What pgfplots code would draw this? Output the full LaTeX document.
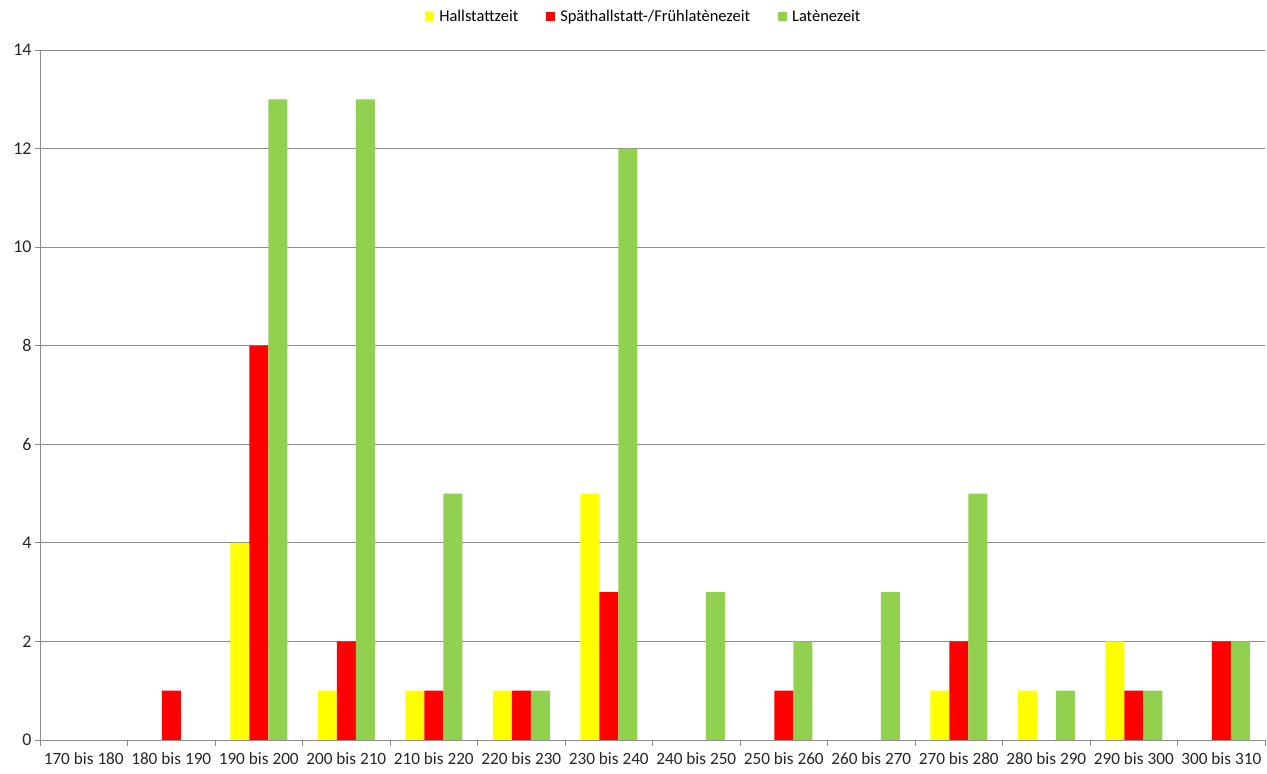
\documentclass[border=0pt]{standalone}
\usepackage{fontspec}
\setmainfont{Carlito}
\usepackage{pgfplots}
\pgfplotsset{compat=1.18}

\definecolor{hallstatt}{RGB}{255,255,0}
\definecolor{spaet}{RGB}{255,0,0}
\definecolor{latene}{RGB}{146,208,80}
\definecolor{gridgray}{RGB}{140,140,140}

\begin{document}
\begin{tikzpicture}
\path[use as bounding box] (-40bp,-34bp) rectangle (1227bp,740bp);
\begin{axis}[
  at={(0,0)}, anchor=south west,
  scale only axis,
  width=1225bp, height=690bp,
  ybar=0pt,
  bar width=19bp,
  xmin=-0.5, xmax=13.5,
  ymin=0, ymax=14,
  xtick={0,...,13},
  xticklabels={170 bis 180,180 bis 190,190 bis 200,200 bis 210,210 bis 220,220 bis 230,230 bis 240,240 bis 250,250 bis 260,260 bis 270,270 bis 280,280 bis 290,290 bis 300,300 bis 310},
  minor xtick={-0.5,0.5,...,13.5},
  major x tick style={draw=none},
  minor tick length=6bp,
  ytick={0,2,...,14},
  major tick length=5bp,
  tick align=outside,
  tick style={gridgray, line width=0.8pt},
  axis x line*=bottom,
  axis y line*=left,
  axis line style={gridgray, line width=0.8pt, -},
  ymajorgrids,
  major grid style={gridgray, line width=0.8pt},
  /pgf/number format/assume math mode=true,
  xticklabel style={font=\fontsize{17.3}{21}\selectfont, text=black!85, yshift=-4bp},
  yticklabel style={font=\fontsize{18}{21}\selectfont, text=black!85},
  legend style={
    at={(0.4930,1.049)}, anchor=center,
    legend columns=-1, draw=none, fill=none,
    font=\fontsize{16.5}{20}\selectfont,
    /tikz/every odd column/.append style={column sep=0bp},
    /tikz/every even column/.append style={column sep=26bp},
  },
  legend image code/.code={
    \fill[#1] (0bp,-4.5bp) rectangle (9bp,4.5bp);
    \path (12bp,0bp);
  },
]
\addplot[fill=hallstatt, draw=none] coordinates {
  (2,4) (3,1) (4,1) (5,1) (6,5) (10,1) (11,1) (12,2)
};
\addplot[fill=spaet, draw=none] coordinates {
  (1,1) (2,8) (3,2) (4,1) (5,1) (6,3) (8,1) (10,2) (12,1) (13,2)
};
\addplot[fill=latene, draw=none] coordinates {
  (2,13) (3,13) (4,5) (5,1) (6,12) (7,3) (8,2) (9,3) (10,5) (11,1) (12,1) (13,2)
};
\legend{Hallstattzeit, Späthallstatt-/Frühlatènezeit, Latènezeit}
\end{axis}
\end{tikzpicture}
\end{document}
